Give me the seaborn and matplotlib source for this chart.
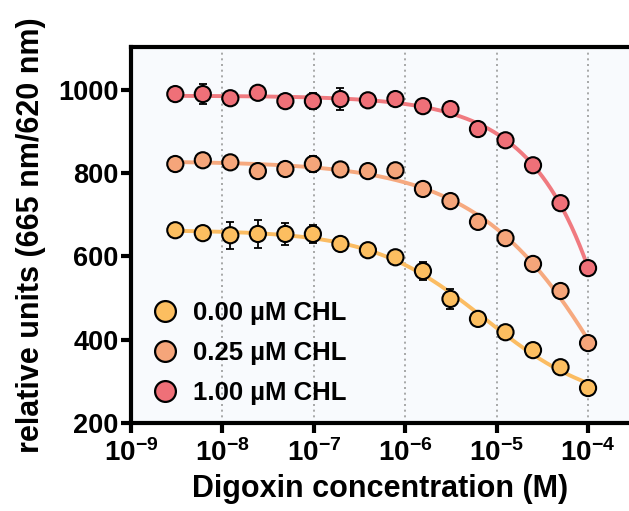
import numpy as np
import pandas as pd
import matplotlib
matplotlib.use("Agg")
import matplotlib.pyplot as plt
import seaborn as sns
from matplotlib.lines import Line2D

# Digoxin serial dilution (2-fold, 16 points, top = 100 uM)
conc = 1e-4 / 2.0 ** np.arange(15, -1, -1)

series = ["0.00 \u00b5M CHL", "0.25 \u00b5M CHL", "1.00 \u00b5M CHL"]

y_000 = [663, 656, 651, 654, 654, 654, 630, 615, 598, 565, 498, 450, 418, 375, 334, 284]
e_000 = [10, 15, 32, 34, 26, 21, 8, 10, 8, 21, 25, 8, 12, 8, 5, 5]
y_025 = [822, 831, 826, 805, 810, 822, 809, 805, 807, 762, 733, 683, 644, 582, 517, 392]
e_025 = [8, 14, 8, 6, 6, 20, 6, 12, 6, 8, 6, 6, 8, 6, 5, 5]
y_100 = [990, 990, 980, 993, 973, 973, 978, 975, 978, 961, 954, 906, 879, 819, 728, 572]
e_100 = [12, 25, 8, 6, 6, 19, 27, 8, 6, 6, 6, 6, 8, 12, 5, 5]

marker_colors = ["#FCBE60", "#F5A57A", "#EF7078"]
line_colors = ["#FBBC62", "#F6A97F", "#F07A80"]

xtick_vals = [1e-9, 1e-8, 1e-7, 1e-6, 1e-5, 1e-4]
xtick_labels = [r"$\mathbf{10^{-9}}$", r"$\mathbf{10^{-8}}$", r"$\mathbf{10^{-7}}$",
                r"$\mathbf{10^{-6}}$", r"$\mathbf{10^{-5}}$", r"$\mathbf{10^{-4}}$"]
ytick_vals = [200, 400, 600, 800, 1000]


def fit_4pl(x, y):
    """Least-squares 4-parameter logistic fit (grid over IC50/Hill, linear for top/bottom)."""
    lx = np.log10(x)
    y = np.asarray(y, float)
    best = None
    for logic in np.linspace(-8, -1, 281):
        for hill in np.linspace(0.3, 3.0, 136):
            s = 1.0 / (1.0 + 10 ** ((lx - logic) * hill))
            A = np.column_stack([np.ones_like(s), s])
            coef, *_ = np.linalg.lstsq(A, y, rcond=None)
            r = np.sum((A @ coef - y) ** 2)
            if best is None or r < best[0]:
                best = (r, coef[0], coef[1], logic, hill)
    _, bottom, span, logic, hill = best
    return lambda xx: bottom + span / (1.0 + 10 ** ((np.log10(xx) - logic) * hill))


sns.set_theme(style="white")
plt.rcParams["font.family"] = ["Liberation Sans", "DejaVu Sans"]
plt.rcParams["font.weight"] = "bold"
plt.rcParams["text.color"] = "black"
plt.rcParams["axes.labelcolor"] = "black"
plt.rcParams["xtick.color"] = "black"
plt.rcParams["ytick.color"] = "black"
plt.rcParams["mathtext.fontset"] = "custom"
plt.rcParams["mathtext.bf"] = "Liberation Sans:bold"
plt.rcParams["mathtext.rm"] = "Liberation Sans:bold"

pts = pd.DataFrame({
    "conc": np.tile(conc, 3),
    "signal": np.concatenate([y_000, y_025, y_100]),
    "err": np.concatenate([e_000, e_025, e_100]),
    "group": np.repeat(series, len(conc)),
})

xs = np.logspace(np.log10(conc[0]), np.log10(conc[-1]), 300)
curve_rows = []
for name, ys in zip(series, [y_000, y_025, y_100]):
    f = fit_4pl(conc, ys)
    curve_rows.append(pd.DataFrame({"conc": xs, "signal": f(xs), "group": name}))
curves = pd.concat(curve_rows, ignore_index=True)

fig = plt.figure(figsize=(6.29, 5.11), dpi=100)
ax = fig.add_axes([0.2083, 0.1722, 0.7917, 0.7358])
ax.set_facecolor("#F8FAFD")

ax.set_xscale("log")
for xv in xtick_vals[1:]:
    ax.axvline(xv, color="#9A9A9A", lw=1.2, ls=(0, (1.2, 2.2)), zorder=0.5)

sns.lineplot(data=curves, x="conc", y="signal", hue="group", hue_order=series,
             palette=line_colors, lw=2.8, legend=False, ax=ax, zorder=2)

for name in series:
    d = pts[pts["group"] == name]
    ax.errorbar(d["conc"], d["signal"], yerr=d["err"], fmt="none",
                ecolor="black", elinewidth=1.3, capsize=3.2, capthick=1.3, zorder=3)

sns.scatterplot(data=pts, x="conc", y="signal", hue="group", hue_order=series,
                palette=marker_colors, s=135, edgecolor="black", linewidth=1.5,
                legend=False, ax=ax, zorder=4)

ax.set_xlim(1e-9, 10 ** -3.552)
ax.set_ylim(200, 1103)
ax.set_xticks(xtick_vals)
ax.set_xticklabels(xtick_labels)
ax.minorticks_off()
ax.set_yticks(ytick_vals)
ax.set_yticklabels([str(v) for v in ytick_vals])

for side in ["left", "bottom", "top"]:
    ax.spines[side].set_visible(True)
    ax.spines[side].set_color("black")
    ax.spines[side].set_linewidth(3)
ax.spines["right"].set_visible(False)

ax.tick_params(axis="both", which="major", direction="out", length=7, width=3,
               color="black", labelcolor="black", labelsize=19.5, pad=2,
               bottom=True, left=True)
ax.tick_params(axis="x", labelsize=20, pad=5)
for lab in ax.get_xticklabels() + ax.get_yticklabels():
    lab.set_fontweight("bold")

ax.set_xlabel("Digoxin concentration (M)", fontsize=22, fontweight="bold",
              color="black", labelpad=5)
ax.set_ylabel("relative units (665 nm/620 nm)", fontsize=22, fontweight="bold",
              color="black", labelpad=9)

handles = [Line2D([], [], ls="none", marker="o", markersize=15, markerfacecolor=c,
                  markeredgecolor="black", markeredgewidth=1.6) for c in marker_colors]
leg = ax.legend(handles, series, loc="lower left", bbox_to_anchor=(-0.01, 0.0),
                frameon=False, prop={"size": 18.5, "weight": "bold"},
                handletextpad=0.3, labelspacing=0.62, borderaxespad=0.3, handlelength=1.6)
for t in leg.get_texts():
    t.set_color("black")

fig.savefig("out.png", dpi=100, facecolor="white")
